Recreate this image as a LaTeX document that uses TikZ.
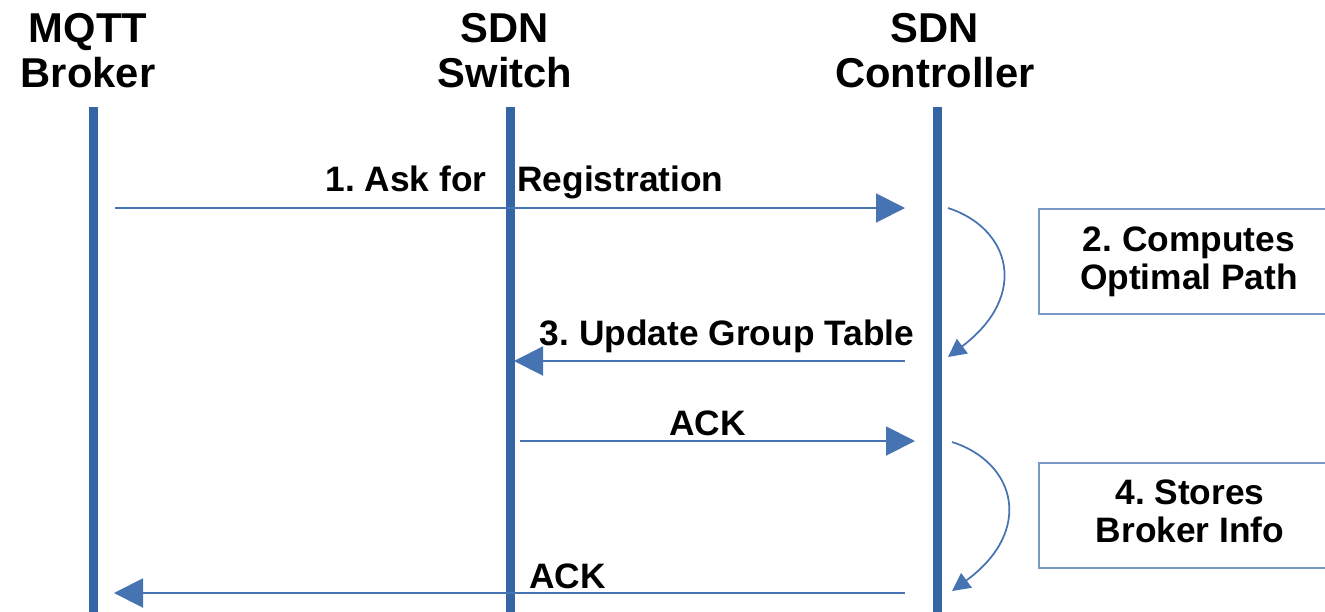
\documentclass[tikz,border=0pt]{standalone}
\usepackage{fontspec}
\setmainfont{Liberation Sans}
\usetikzlibrary{arrows.meta}
\definecolor{lifeblue}{RGB}{52,101,164}
\definecolor{msgblue}{RGB}{70,115,178}
\definecolor{boxblue}{RGB}{120,152,200}
\frenchspacing
\begin{document}
\begin{tikzpicture}[x=0.75pt,y=-0.75pt,
  lifeline/.style={draw=lifeblue, line width=6.75pt},
  msg/.style={draw=msgblue, line width=1.5pt, -{Triangle[length=21.75pt,width=21.75pt]}},
  selfmsg/.style={draw=msgblue, line width=1.3pt, -{Triangle[length=13.5pt,width=13.5pt]}},
  lbl/.style={font=\bfseries\fontsize{26.5}{30}\selectfont, inner sep=0pt, anchor=base},
  head/.style={font=\bfseries\fontsize{31.3}{33.75}\selectfont, align=center, inner sep=0pt, anchor=north},
  boxtext/.style={font=\bfseries\fontsize{26.5}{28.5}\selectfont, align=center, inner sep=0pt, anchor=north},
  notebox/.style={draw=boxblue, line width=1.5pt, anchor=north west, minimum width=226.5pt, minimum height=78.75pt, inner sep=0pt}]
\useasboundingbox (0,0) rectangle (1325,611);
\clip (0,0) rectangle (1325,611);

% headers
\node[head] (hbroker) at (88,13) {MQTT\\Broker};
\node[head] (hswitch) at (505,13) {SDN\\Switch};
\node[head] (hctrl) at (935,13) {SDN\\Controller};

% lifelines
\coordinate (bTop) at (93.5,107);
\coordinate (bBot) at (93.5,615);
\coordinate (sTop) at (510.5,107);
\coordinate (sBot) at (510.5,615);
\coordinate (cTop) at (937,107);
\coordinate (cBot) at (937,615);
\draw[lifeline] (bTop) -- (bBot);
\draw[lifeline] (sTop) -- (sBot);
\draw[lifeline] (cTop) -- (cBot);

% message end points
\coordinate (m1s) at (115,208);
\coordinate (m1e) at (905,208);
\coordinate (m3s) at (905,361);
\coordinate (m3e) at (514,361);
\coordinate (m4s) at (520,441);
\coordinate (m4e) at (915,441);
\coordinate (m5s) at (905,593);
\coordinate (m5e) at (114,593);
\coordinate (c1s) at (948,208);
\coordinate (c1e) at (948,357);
\coordinate (c2s) at (952,442);
\coordinate (c2e) at (952,591);

% messages
\draw[msg] (m1s) -- (m1e);
\draw[msg] (m3s) -- (m3e);
\draw[msg] (m4s) -- (m4e);
\draw[msg] (m5s) -- (m5e);
\draw[selfmsg] (c1s) .. controls (1010,228) and (1030,295) .. (c1e);
\draw[selfmsg] (c2s) .. controls (1015,462) and (1035,530) .. (c2e);

% labels
\node[lbl] (l1) at (524.5,191) {1. Ask for\hspace{23.25pt}Registration};
\node[lbl] (l3) at (727,345) {3. Update Group Table};
\node[lbl] (l4) at (707.5,435) {ACK};
\node[lbl] (l5) at (567.5,588) {ACK};

% note boxes
\node[notebox] (box2) at (1038,208) {};
\node[notebox] (box4) at (1038,462) {};
\node[boxtext] (t2) at (1189,227) {2. Computes\\Optimal Path};
\node[boxtext] (t4) at (1190,480) {4. Stores\\Broker Info};
\end{tikzpicture}
\end{document}
